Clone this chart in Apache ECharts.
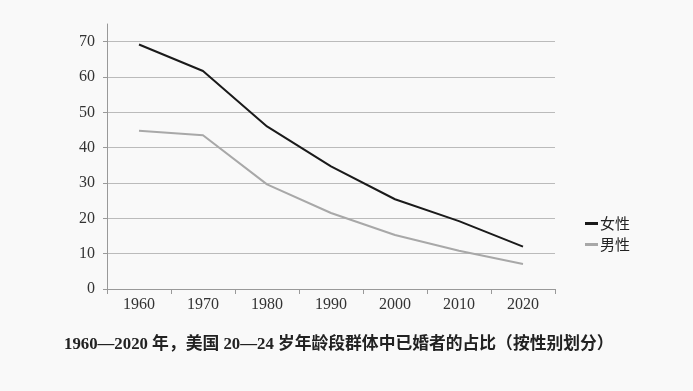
<!DOCTYPE html>
<html><head><meta charset="utf-8">
<script src="https://cdn.jsdelivr.net/npm/echarts@6/dist/echarts.min.js"></script>
<style>html,body{margin:0;padding:0;background:#f9f9f9}#c{width:693px;height:391px}</style>
</head><body><div id="c"></div>
<script>
const years = ['1960','1970','1980','1990','2000','2010','2020'];
const female = [69.2, 61.7, 46.0, 34.7, 25.4, 19.2, 12.0];
const male = [44.8, 43.5, 29.6, 21.5, 15.3, 10.8, 7.1];
const yTicks = [0,10,20,30,40,50,60,70];
const titleText = '1960—2020 年，美国 20—24 岁年龄段群体中已婚者的占比（按性别划分）';
const serif = "'Liberation Serif','Noto Sans CJK SC',serif";
const chart = echarts.init(document.getElementById('c'));
chart.setOption({
  backgroundColor: '#f9f9f9',
  animation: false,
  title: {text: titleText, left: 59, top: 331,
    textStyle: {fontFamily: serif, fontWeight: 'bold', fontSize: 16.8, color: '#222'}},
  legend: {orient: 'vertical', left: 580, top: 211, itemGap: 6, itemWidth: 13, itemHeight: 3,
    icon: 'rect', textStyle: {fontFamily: "'Noto Sans CJK SC',sans-serif", fontSize: 15, color: '#222', padding: [0,0,0,-3]},
    data: ['女性','男性']},
  grid: {left: 107, right: 138, top: 24, bottom: 102, containLabel: false},
  xAxis: {type: 'category', data: years, boundaryGap: true,
    axisLine: {lineStyle: {color: '#999', width: 1}},
    axisTick: {show: true, length: 5, lineStyle: {color: '#999'}},
    axisLabel: {margin: 8, fontFamily: serif, fontSize: 16, color: '#333'}},
  yAxis: {type: 'value', min: 0, max: 75, interval: 10,
    axisLine: {show: true, lineStyle: {color: '#999', width: 1}},
    axisTick: {show: true, length: 4, lineStyle: {color: '#999'}, customValues: yTicks},
    axisLabel: {margin: 12, fontFamily: serif, fontSize: 16, color: '#333', customValues: yTicks},
    splitLine: {show: true, lineStyle: {color: '#bbb', width: 1}}},
  series: [
    {name: '女性', type: 'line', data: female, showSymbol: false, symbol: 'none',
      lineStyle: {color: '#1a1a1a', width: 2}, itemStyle: {color: '#1a1a1a'}},
    {name: '男性', type: 'line', data: male, showSymbol: false, symbol: 'none',
      lineStyle: {color: '#a8a8a8', width: 2}, itemStyle: {color: '#a8a8a8'}}
  ]
});
</script></body></html>
